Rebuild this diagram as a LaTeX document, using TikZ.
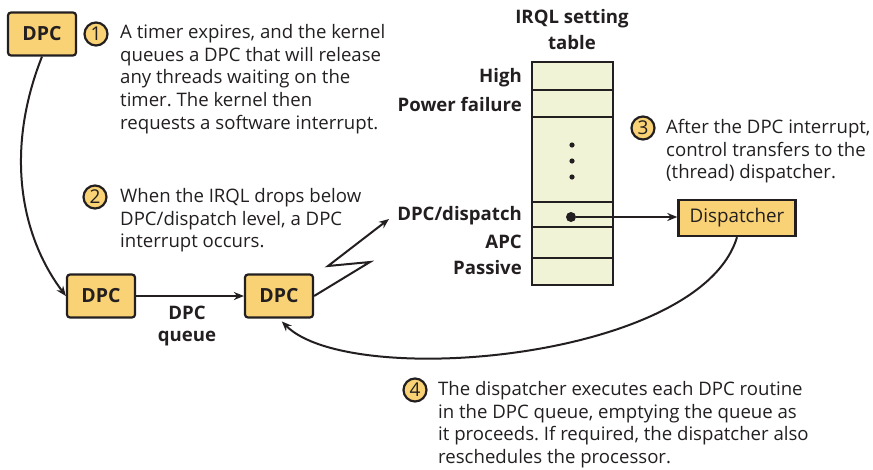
\documentclass[tikz,border=0pt]{standalone}
\usepackage{fontspec}
\setmainfont{Open Sans}
\usetikzlibrary{arrows.meta,positioning}
\frenchspacing

\definecolor{dpcyellow}{HTML}{F8D274}
\definecolor{tablecream}{HTML}{F1F3D6}
\definecolor{inkdark}{HTML}{231F20}

\tikzset{
    dpcbox/.style={draw=inkdark,line width=2.2pt,fill=dpcyellow,rounded corners=3pt,
        minimum width=68pt,minimum height=43pt,inner sep=0pt,text=inkdark,
        font=\bfseries\fontsize{19.5}{20}\selectfont},
    stepnum/.style={circle,draw=inkdark,line width=2.2pt,fill=dpcyellow,minimum size=23pt,
        inner sep=0pt,text=inkdark,font=\fontsize{19}{20}\selectfont},
    note/.style={anchor=north west,align=left,inner sep=0pt,text=inkdark,
        font=\fontsize{18.6}{22.7}\selectfont},
    level/.style={anchor=east,inner sep=0pt,text=inkdark,
        font=\bfseries\fontsize{18.6}{20}\selectfont},
    flow/.style={draw=inkdark,line width=2pt,-{Stealth[length=10pt,width=8pt]}},
}

\begin{document}
\begin{tikzpicture}[x=1pt,y=-1pt]
    \useasboundingbox (0,0) rectangle (873,469);

    % DPC objects
    \node[dpcbox] (q0) at (42,34) {DPC};
    \node[dpcbox] (q1) at (101,296) {DPC};
    \node[dpcbox] (q2) at (279,296) {DPC};
    \node[align=center,inner sep=0pt,text=inkdark,font=\bfseries\fontsize{18.6}{22}\selectfont]
        (qlabel) at (187,326) {DPC\\queue};

    % steps
    \node[stepnum] (n1) at (96,34) {1};
    \node[note] (t1) at (120,24) {A timer expires, and the kernel\\queues a DPC that will release\\any threads waiting on the\\timer. The kernel then\\requests a software interrupt.};
    \node[stepnum] (n2) at (95,197) {2};
    \node[note] (t2) at (120,188) {When the IRQL drops below\\DPC/dispatch level, a DPC\\interrupt occurs.};
    \node[stepnum] (n3) at (643,128) {3};
    \node[note] (t3) at (666,119) {After the DPC interrupt,\\control transfers to the\\(thread) dispatcher.};
    \node[stepnum] (n4) at (415,390) {4};
    \node[note] (t4) at (438,381) {The dispatcher executes each DPC routine\\in the DPC queue, emptying the queue as\\it proceeds. If required, the dispatcher also\\reschedules the processor.};

    % IRQL table
    \node[align=center,inner sep=0pt,text=inkdark,font=\bfseries\fontsize{18.6}{26}\selectfont]
        (title) at (572,30) {IRQL setting\\table};
    \filldraw[draw=inkdark,fill=tablecream,line width=2.4pt] (532,62) rectangle (613,285);
    \foreach \yy in {90,117,202,227,258}
        \draw[inkdark,line width=2.4pt] (532,\yy) -- (613,\yy);
    \foreach \yy in {145,161,177}
        \fill[inkdark] (572,\yy) circle (2.6);
    \node[level] (lvhigh) at (522,78) {High};
    \node[level] (lvpower) at (522,104) {Power failure};
    \node[level] (lvdpc) at (522,216) {DPC/dispatch};
    \node[level] (lvapc) at (522,242) {APC};
    \node[level] (lvpassive) at (522,268) {Passive};
    \node[circle,fill=inkdark,inner sep=0pt,minimum size=10pt] (bullet) at (571,217) {};

    % dispatcher
    \node[draw=inkdark,line width=2.4pt,fill=dpcyellow,minimum width=117pt,minimum height=36pt,
        inner sep=0pt,text=inkdark,font=\fontsize{18.8}{20}\selectfont] (disp) at (737,218) {Dispatcher};

    % connectors
    \coordinate (zz1) at (370,262);
    \coordinate (zz2) at (328,266);
    \coordinate (bolt) at (389,219);
    \draw[flow] (q0.south) .. controls (5,150) and (20,235) .. (q1.west);
    \draw[flow] (q1) -- (q2);
    \draw[flow,line join=miter] (q2.east) -- (zz1) -- (zz2) -- (bolt);
    \draw[flow] (bullet) -- (bullet -| disp.west);
    \draw[flow,shorten >=4pt] (disp.south) .. controls (700,360) and (350,390) .. (q2.south);
\end{tikzpicture}
\end{document}
